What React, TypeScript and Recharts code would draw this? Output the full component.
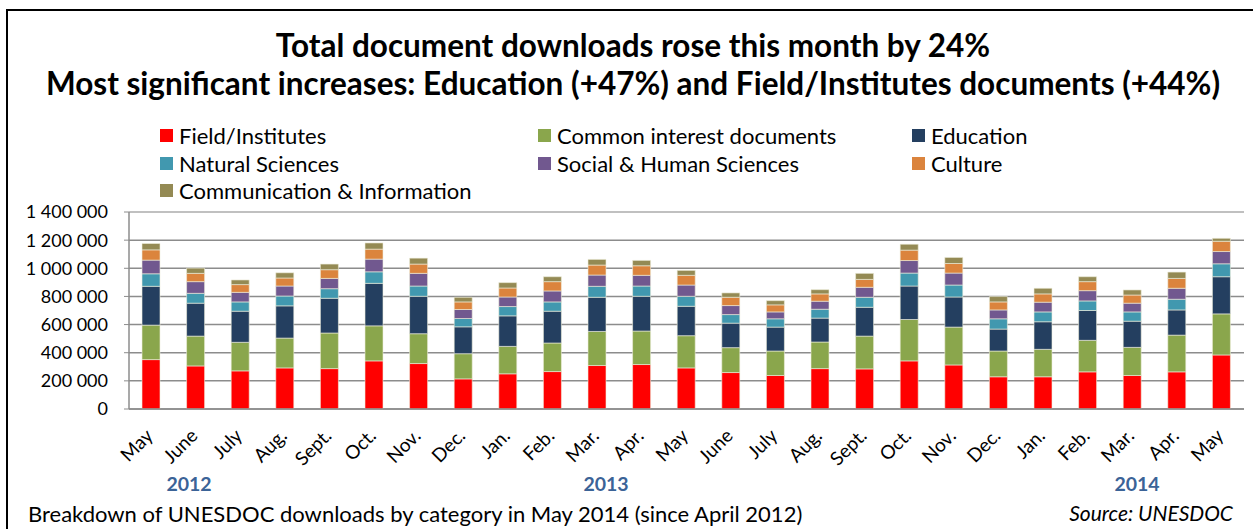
import { BarChart, Bar, XAxis, YAxis, CartesianGrid, ReferenceLine } from "recharts";

const months = [
  "May", "June", "July", "Aug.", "Sept.", "Oct.", "Nov.", "Dec.", "Jan.", "Feb.", "Mar.", "Apr.",
  "May", "June", "July", "Aug.", "Sept.", "Oct.", "Nov.", "Dec.", "Jan.", "Feb.", "Mar.", "Apr.", "May",
];

// values per month (thousands), May 2012 -> May 2014
const field = [351, 306, 271, 292, 287, 342, 323, 214, 250, 266, 309, 316, 292, 259, 238, 287, 285, 342, 313, 229, 229, 264, 238, 264, 384];
const common = [245, 212, 203, 212, 253, 249, 212, 179, 195, 203, 242, 238, 229, 177, 174, 189, 233, 294, 269, 183, 195, 224, 200, 261, 292];
const education = [276, 234, 221, 229, 247, 302, 266, 191, 217, 226, 243, 247, 209, 174, 170, 170, 205, 238, 214, 156, 196, 212, 186, 179, 264];
const natural = [89, 70, 66, 70, 68, 82, 73, 59, 66, 66, 78, 73, 71, 61, 59, 63, 71, 92, 85, 73, 70, 68, 66, 76, 92];
const social = [97, 83, 68, 71, 73, 90, 90, 64, 68, 78, 80, 76, 80, 64, 49, 57, 71, 89, 85, 63, 69, 73, 62, 78, 87];
const culture = [73, 59, 55, 57, 62, 71, 66, 54, 64, 66, 71, 68, 69, 59, 50, 52, 56, 74, 68, 57, 59, 64, 58, 70, 73];
const communication = [45, 37, 33, 37, 40, 44, 42, 33, 38, 35, 40, 38, 35, 31, 30, 30, 43, 42, 43, 38, 40, 35, 36, 45, 21];

const yTicks = [0, 200000, 400000, 600000, 800000, 1000000, 1200000, 1400000];

const series = [
  { key: "field", name: "Field/Institutes", color: "#ff0000", values: field },
  { key: "common", name: "Common interest documents", color: "#8aa64c", values: common },
  { key: "education", name: "Education", color: "#243f60", values: education },
  { key: "natural", name: "Natural Sciences", color: "#4198af", values: natural },
  { key: "social", name: "Social & Human Sciences", color: "#71588f", values: social },
  { key: "culture", name: "Culture", color: "#db843d", values: culture },
  { key: "communication", name: "Communication & Information", color: "#948a54", values: communication },
];

const data = months.map((m, i) => {
  const row: Record<string, string | number> = { id: String(i), month: m };
  series.forEach((s) => {
    row[s.key] = s.values[i] * 1000;
  });
  return row;
});

const FONT = "Lato, 'Open Sans', sans-serif";

const fmt = (v: number) => String(v).replace(/\B(?=(\d{3})+(?!\d))/g, " ");

const MonthTick = ({ x, y, payload }: any) => {
  const ax = x + 3;
  const ay = y + 20;
  return (
    <text
      x={ax}
      y={ay}
      transform={`rotate(-45 ${ax} ${ay})`}
      textAnchor="end"
      fontSize={19}
      fontFamily={FONT}
      fill="#000"
    >
      {months[payload.index]}
    </text>
  );
};

// legend in three columns, like the original
const legendCols = [160, 538, 912];
const legendRows = [135, 163, 190];

export default function App() {
  return (
    <div
      style={{
        position: "absolute",
        left: 0,
        top: 0,
        width: 1253,
        height: 529,
        background: "#fff",
        overflow: "hidden",
        fontFamily: FONT,
      }}
    >
      <div
        style={{
          position: "absolute",
          left: 6,
          top: 9,
          width: 1300,
          height: 600,
          borderLeft: "2px solid #000",
          borderTop: "2px solid #000",
        }}
      />
      <div style={{ position: "absolute", left: 0, width: 1266, top: 26, textAlign: "center", fontWeight: 700, fontSize: 31.5, lineHeight: "38px", whiteSpace: "nowrap" }}>
        Total document downloads rose this month by 24%
        <br />
        Most significant increases: Education (+47%) and Field/Institutes documents (+44%)
      </div>

      {series.map((s, i) => (
        <div
          key={s.key}
          style={{
            position: "absolute",
            left: legendCols[i % 3],
            top: legendRows[Math.floor(i / 3)] - 13,
            height: 26,
            display: "flex",
            alignItems: "center",
            fontSize: 22,
            whiteSpace: "nowrap",
          }}
        >
          <span style={{ width: 13, height: 13, background: s.color, marginRight: 6, display: "inline-block" }} />
          {s.name}
        </div>
      ))}

      <BarChart
        width={1253}
        height={529}
        data={data}
        margin={{ top: 212, right: 9, bottom: 60, left: 0 }}
        barSize={18}
        style={{ position: "absolute", left: 0, top: 0 }}
      >
        <CartesianGrid vertical={false} stroke="#8c8c8c" strokeWidth={1.5} />
        <ReferenceLine y={1400000} stroke="#c8c8c8" strokeWidth={1.5} />
        <XAxis
          dataKey="id"
          interval={0}
          height={60}
          tickLine={false}
          axisLine={{ stroke: "#8c8c8c", strokeWidth: 1.5 }}
          tick={<MonthTick />}
        />
        <YAxis
          width={129}
          domain={[0, 1400000]}
          ticks={yTicks}
          interval={0}
          tickFormatter={fmt}
          tickSize={5}
          tickMargin={16}
          tickLine={{ stroke: "#8c8c8c" }}
          axisLine={{ stroke: "#8c8c8c", strokeWidth: 1.5 }}
          tick={{ fill: "#000", fontSize: 18, fontFamily: FONT }}
        />
        <YAxis
          yAxisId="right"
          orientation="right"
          width={0}
          tick={false}
          tickLine={false}
          axisLine={{ stroke: "#c8c8c8", strokeWidth: 1.5 }}
        />
        {series.map((s) => (
          <Bar
            key={s.key}
            dataKey={s.key}
            name={s.name}
            stackId="total"
            fill={s.color}
            stroke="#eeeedc"
            strokeWidth={0.6}
            isAnimationActive={false}
          />
        ))}
      </BarChart>

      {[
        { label: "2012", x: 189 },
        { label: "2013", x: 606 },
        { label: "2014", x: 1137 },
      ].map((yr) => (
        <div
          key={yr.label}
          style={{ position: "absolute", left: yr.x - 40, width: 80, top: 472, textAlign: "center", fontWeight: 700, fontSize: 19.5, color: "#3b6397" }}
        >
          {yr.label}
        </div>
      ))}

      <div style={{ position: "absolute", left: 28, top: 500, fontSize: 22, whiteSpace: "nowrap" }}>
        Breakdown of UNESDOC downloads by category in May 2014 (since April 2012)
      </div>
      <div style={{ position: "absolute", right: 20, top: 500, fontSize: 21, fontStyle: "italic", whiteSpace: "nowrap" }}>
        Source: UNESDOC
      </div>
    </div>
  );
}
